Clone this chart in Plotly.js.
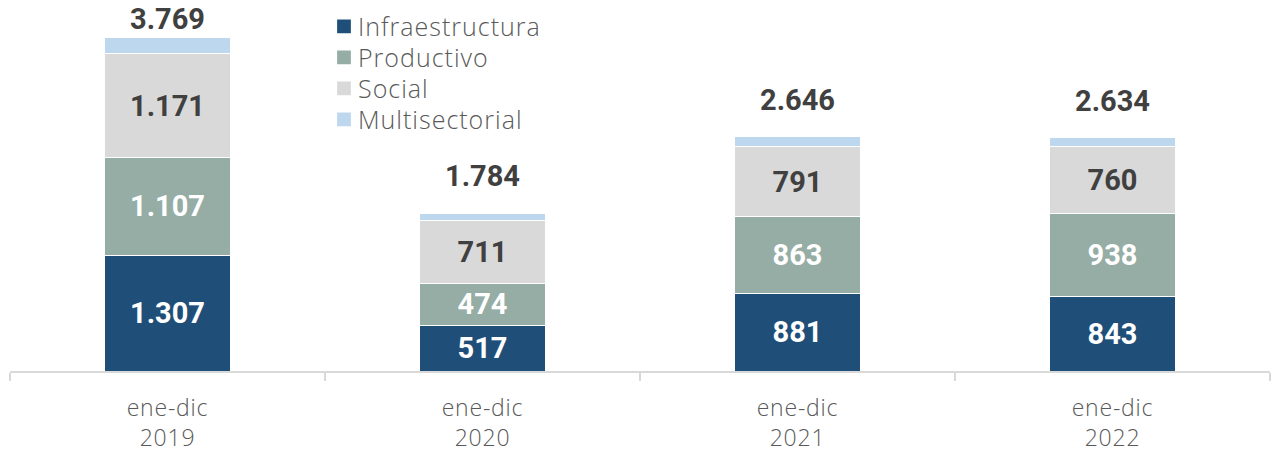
<!DOCTYPE html>
<html><head><meta charset="utf-8">
<script src="https://cdn.plot.ly/plotly-3.0.1.min.js"></script>
<style>
html,body{margin:0;padding:0;background:#fff}#chart{width:1272px;height:452px}
.legendtext{letter-spacing:1px}
.xtick text{letter-spacing:0.8px}
</style>
</head><body><div id="chart"></div>
<script>
const categories = ['ene-dic<br>2019', 'ene-dic<br>2020', 'ene-dic<br>2021', 'ene-dic<br>2022'];
const infraestructura = [1307, 517, 881, 843];
const productivo = [1107, 474, 863, 938];
const social = [1171, 711, 791, 760];
const multisectorial = [184, 82, 111, 93];
const totals = [3769, 1784, 2646, 2634];

const labelFont = {family: 'Roboto, sans-serif', size: 29, weight: 700};
const tickFont = {family: '"Open Sans", sans-serif', size: 23, weight: 300, color: '#595959'};
const legendFont = {family: '"Open Sans", sans-serif', size: 25, weight: 300, color: '#595959'};
function bar(name, y, color, textColor, showText) {
  return {
    type: 'bar', name: name, x: categories, y: y,
    marker: {color: color, line: {color: '#ffffff', width: 1}},
    text: showText ? y.map(v => v.toLocaleString('de-DE')) : undefined,
    textposition: showText ? 'inside' : 'none',
    insidetextanchor: 'middle',
    constraintext: 'none',
    textfont: Object.assign({}, labelFont, {color: textColor}),
    hoverinfo: 'skip'
  };
}
const traces = [
  bar('Infraestructura', infraestructura, '#1f4e79', '#ffffff', true),
  bar('Productivo', productivo, '#95ada4', '#ffffff', true),
  bar('Social', social, '#d9d9d9', '#404040', true),
  bar('Multisectorial', multisectorial, '#bdd7ee', '#404040', false)
];
const yMax = 4193;
const plotH = 371;
const annotations = totals.map((t, i) => {
  const pxAbove = (yMax - t) / yMax * plotH;
  return {
    x: categories[i], y: t, xref: 'x', yref: 'y',
    text: t.toLocaleString('de-DE'), showarrow: false,
    yanchor: 'middle', yshift: Math.min(37, pxAbove - 19),
    font: Object.assign({}, labelFont, {color: '#404040'})
  };
});
const layout = {
  width: 1272, height: 452,
  margin: {l: 10, r: 2, t: 0, b: 81},
  barmode: 'stack', bargap: 0.6,
  paper_bgcolor: '#ffffff', plot_bgcolor: '#ffffff',
  showlegend: true,
  legend: {x: 0.2492, y: 0.99, xanchor: 'left', yanchor: 'top', traceorder: 'normal',
    font: legendFont, itemwidth: 30, tracegroupgap: 0, bgcolor: 'rgba(0,0,0,0)'},
  xaxis: {type: 'category', showline: true, linecolor: '#d9d9d9', linewidth: 1.5,
    ticks: 'outside', tickson: 'boundaries', ticklen: 8, tickcolor: '#d9d9d9', tickwidth: 1.5,
    tickfont: tickFont, ticklabelstandoff: 16,
    showgrid: false, fixedrange: true},
  yaxis: {range: [0, yMax], visible: false, showgrid: false, zeroline: false, fixedrange: true},
  annotations: annotations
};
Plotly.newPlot('chart', traces, layout, {displayModeBar: false, staticPlot: true}).then(gd => {
  const items = gd.querySelectorAll('.legend .traces');
  let base = null;
  items.forEach((g, i) => {
    const m = /translate\(\s*([-\d.]+)[ ,]+([-\d.]+)\s*\)/.exec(g.getAttribute('transform') || '');
    if (!m) return;
    const x = parseFloat(m[1]), y = parseFloat(m[2]);
    if (base === null) base = y;
    g.setAttribute('transform', 'translate(' + x + ',' + (base + i * 31) + ')');
    g.querySelectorAll('.legendpoints path').forEach(p => {
      p.setAttribute('transform', (p.getAttribute('transform') || '') + ' scale(1.25)');
    });
    const t = g.querySelector('.legendtext');
    if (t) t.setAttribute('x', parseFloat(t.getAttribute('x')) - 6);
  });
});
</script></body></html>
